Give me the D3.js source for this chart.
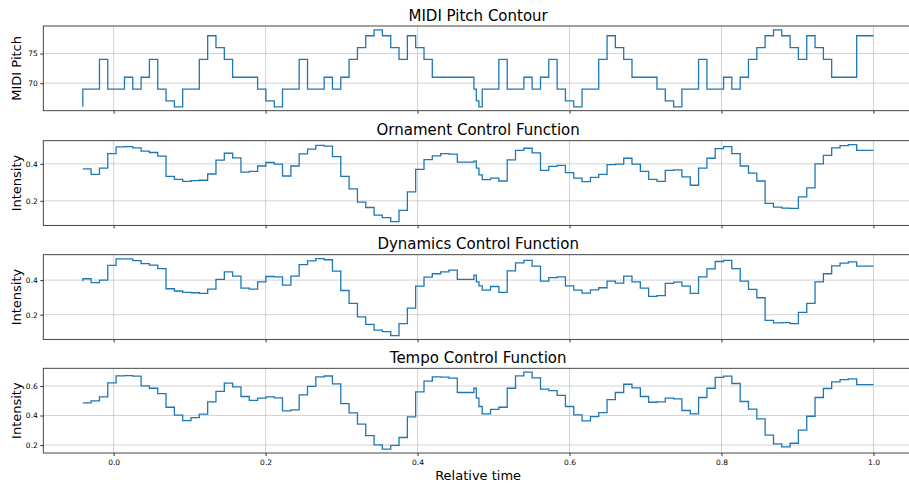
<!DOCTYPE html>
<html>
<head>
<meta charset="utf-8">
<script src="https://cdn.jsdelivr.net/npm/d3@7"></script>
<style>
  body { margin: 0; background: #fff; }
  text { font-family: "DejaVu Sans", sans-serif; fill: #000; }
</style>
</head>
<body>
<script>
// note onsets (relative time), two short grace notes near 0.48
var times = [-0.0405, -0.0296, -0.0186, -0.0077, 0.0033, 0.0143, 0.0252, 0.0362, 0.0471, 0.0581,
  0.0690, 0.0800, 0.0909, 0.1019, 0.1128, 0.1238, 0.1347, 0.1457, 0.1566, 0.1676,
  0.1785, 0.1895, 0.2004, 0.2114, 0.2223, 0.2333, 0.2442, 0.2552, 0.2661, 0.2771,
  0.2880, 0.2990, 0.3099, 0.3209, 0.3318, 0.3428, 0.3537, 0.3647, 0.3756, 0.3866,
  0.3975, 0.4085, 0.4194, 0.4304, 0.4413, 0.4523, 0.4632, 0.4742, 0.4774, 0.4808,
  0.4851, 0.4961, 0.5070, 0.5180, 0.5289, 0.5399, 0.5508, 0.5618, 0.5727, 0.5837,
  0.5946, 0.6056, 0.6165, 0.6275, 0.6384, 0.6494, 0.6603, 0.6713, 0.6822, 0.6932,
  0.7041, 0.7151, 0.7260, 0.7370, 0.7479, 0.7589, 0.7698, 0.7808, 0.7917, 0.8027,
  0.8136, 0.8246, 0.8355, 0.8465, 0.8574, 0.8684, 0.8793, 0.8903, 0.9012, 0.9122,
  0.9231, 0.9341, 0.9450, 0.9560, 0.9669, 0.9779, 0.9888, 1.0];

var pitch = [66, 69, 69, 74, 69, 69, 71, 69, 71, 74,
  69, 67, 66, 69, 69, 74, 78, 76, 74, 71,
  71, 71, 69, 67, 66, 69, 69, 74, 69, 69,
  71, 69, 71, 74, 76, 78, 79, 78, 76, 74,
  78, 76, 74, 71, 71, 71, 71, 71, 69, 67,
  66, 69, 69, 74, 69, 69, 71, 69, 71, 74,
  69, 67, 66, 69, 69, 74, 78, 76, 74, 71,
  71, 71, 69, 67, 66, 69, 69, 74, 69, 69,
  71, 69, 71, 74, 76, 78, 79, 78, 76, 74,
  78, 76, 74, 71, 71, 71, 78, 78];

var ornament = [0.373, 0.373, 0.343, 0.377, 0.455, 0.491, 0.493, 0.486, 0.468, 0.461,
  0.441, 0.332, 0.316, 0.305, 0.309, 0.311, 0.345, 0.420, 0.457, 0.432,
  0.355, 0.359, 0.388, 0.407, 0.398, 0.334, 0.388, 0.454, 0.479, 0.500,
  0.496, 0.439, 0.332, 0.264, 0.193, 0.164, 0.123, 0.109, 0.088, 0.148,
  0.248, 0.370, 0.423, 0.443, 0.455, 0.452, 0.409, 0.409, 0.414, 0.377,
  0.340, 0.314, 0.323, 0.307, 0.421, 0.473, 0.484, 0.459, 0.364, 0.386,
  0.391, 0.352, 0.323, 0.304, 0.327, 0.343, 0.396, 0.398, 0.430, 0.398,
  0.359, 0.316, 0.305, 0.364, 0.367, 0.329, 0.284, 0.377, 0.430, 0.482,
  0.493, 0.455, 0.388, 0.350, 0.307, 0.186, 0.166, 0.161, 0.159, 0.221,
  0.270, 0.400, 0.445, 0.486, 0.498, 0.504, 0.473, 0.473];

var dynamics = [0.394, 0.408, 0.385, 0.400, 0.485, 0.523, 0.523, 0.513, 0.496, 0.487,
  0.467, 0.350, 0.337, 0.329, 0.327, 0.323, 0.348, 0.404, 0.448, 0.423,
  0.354, 0.348, 0.390, 0.421, 0.419, 0.371, 0.423, 0.490, 0.512, 0.525,
  0.518, 0.452, 0.340, 0.265, 0.187, 0.144, 0.110, 0.102, 0.079, 0.148,
  0.238, 0.365, 0.417, 0.437, 0.448, 0.458, 0.404, 0.404, 0.429, 0.390,
  0.367, 0.342, 0.363, 0.329, 0.454, 0.500, 0.515, 0.481, 0.394, 0.415,
  0.419, 0.367, 0.342, 0.325, 0.344, 0.356, 0.394, 0.383, 0.423, 0.390,
  0.354, 0.306, 0.310, 0.381, 0.388, 0.365, 0.323, 0.419, 0.465, 0.508,
  0.515, 0.467, 0.394, 0.346, 0.298, 0.167, 0.152, 0.154, 0.148, 0.213,
  0.265, 0.390, 0.437, 0.483, 0.498, 0.506, 0.481, 0.481];

var tempo = [0.486, 0.486, 0.499, 0.527, 0.621, 0.669, 0.671, 0.667, 0.601, 0.585,
  0.549, 0.456, 0.402, 0.366, 0.386, 0.409, 0.493, 0.563, 0.619, 0.594,
  0.529, 0.502, 0.518, 0.527, 0.520, 0.432, 0.438, 0.540, 0.597, 0.662,
  0.668, 0.615, 0.481, 0.418, 0.341, 0.264, 0.201, 0.172, 0.197, 0.251,
  0.391, 0.560, 0.633, 0.662, 0.660, 0.653, 0.556, 0.556, 0.585, 0.518,
  0.461, 0.411, 0.441, 0.456, 0.585, 0.669, 0.694, 0.655, 0.579, 0.569,
  0.536, 0.461, 0.405, 0.364, 0.393, 0.420, 0.508, 0.556, 0.612, 0.588,
  0.529, 0.490, 0.493, 0.518, 0.513, 0.434, 0.411, 0.522, 0.585, 0.658,
  0.667, 0.617, 0.495, 0.443, 0.377, 0.267, 0.208, 0.188, 0.212, 0.301,
  0.395, 0.522, 0.583, 0.628, 0.644, 0.649, 0.610, 0.610];

var xTicks = [0.0, 0.2, 0.4, 0.6, 0.8, 1.0];
var titles = ["MIDI Pitch Contour", "Ornament Control Function", "Dynamics Control Function", "Tempo Control Function"];
var yLabels = ["MIDI Pitch", "Intensity", "Intensity", "Intensity"];
var yTicks = [[70, 75], [0.2, 0.4], [0.2, 0.4], [0.2, 0.4, 0.6]];
var series = [pitch, ornament, dynamics, tempo];

const w = 909;
const h = 487;
const left = 43.3, right = 913;
const panelTops = [26, 140.7, 254.7, 368.3];
const panelH = 84.7;

var svg = d3.select("body")
    .append("svg")
    .attr("width", w)
    .attr("height", h);

svg.append("rect").attr("width", w).attr("height", h).attr("fill", "#fff");

// matplotlib style 5% margins
var xExt = d3.extent(times);
var xPad = (xExt[1] - xExt[0]) * 0.05;
var x = d3.scaleLinear()
    .domain([xExt[0] - xPad, xExt[1] + xPad])
    .range([left, right]);

series.forEach(function (vals, p) {
    var top = panelTops[p];
    var bottom = top + panelH;
    var ext = d3.extent(vals);
    var pad = (ext[1] - ext[0]) * 0.05;
    var y = d3.scaleLinear()
        .domain([ext[0] - pad, ext[1] + pad])
        .range([bottom, top]);

    var g = svg.append("g");

    // grid
    g.selectAll(".vgrid")
        .data(xTicks)
        .enter()
        .append("line")
        .attr("x1", d => x(d)).attr("x2", d => x(d))
        .attr("y1", top).attr("y2", bottom)
        .attr("stroke", "#b0b0b0").attr("stroke-opacity", 0.7).attr("stroke-width", 0.8);
    g.selectAll(".hgrid")
        .data(yTicks[p])
        .enter()
        .append("line")
        .attr("x1", left).attr("x2", right)
        .attr("y1", d => y(d)).attr("y2", d => y(d))
        .attr("stroke", "#b0b0b0").attr("stroke-opacity", 0.7).attr("stroke-width", 0.8);

    // the step line (same as plt.step, where='pre')
    var line = d3.line()
        .x((d, i) => x(times[i]))
        .y(d => y(d))
        .curve(d3.curveStepBefore);
    g.append("path")
        .datum(vals)
        .attr("d", line)
        .attr("fill", "none")
        .attr("stroke", "#1f77b4")
        .attr("stroke-width", 1.3);

    // spines
    g.append("rect")
        .attr("x", left).attr("y", top)
        .attr("width", right - left).attr("height", panelH)
        .attr("fill", "none").attr("stroke", "#333").attr("stroke-width", 0.9);

    // x ticks on every panel, labels only at the bottom
    var xAxis = d3.axisBottom(x)
        .tickValues(xTicks)
        .tickSize(3)
        .tickPadding(4)
        .tickFormat(p == 3 ? d3.format(".1f") : "");
    var xa = g.append("g").attr("transform", "translate(0," + bottom + ")").call(xAxis);
    xa.select(".domain").remove();
    xa.selectAll("line").attr("stroke", "#333");
    xa.selectAll("text").attr("font-size", "7.5px").attr("font-family", "DejaVu Sans").attr("fill", "#000");

    var yAxis = d3.axisLeft(y)
        .tickValues(yTicks[p])
        .tickSize(3)
        .tickPadding(2.5)
        .tickFormat(p == 0 ? d3.format("d") : d3.format(".1f"));
    var ya = g.append("g").attr("transform", "translate(" + left + ",0)").call(yAxis);
    ya.select(".domain").remove();
    ya.selectAll("line").attr("stroke", "#333");
    ya.selectAll("text").attr("font-size", "7.5px").attr("font-family", "DejaVu Sans").attr("fill", "#000");

    // title and y label
    g.append("text")
        .attr("x", (left + right) / 2)
        .attr("y", top - 5.5)
        .attr("text-anchor", "middle")
        .attr("font-size", "15px")
        .text(titles[p]);
    g.append("text")
        .attr("transform", "translate(21," + (top + panelH / 2) + ") rotate(-90)")
        .attr("text-anchor", "middle")
        .attr("font-size", "13px")
        .text(yLabels[p]);
});

svg.append("text")
    .attr("x", (left + right) / 2)
    .attr("y", 480)
    .attr("text-anchor", "middle")
    .attr("font-size", "13px")
    .text("Relative time");
</script>
</body>
</html>
